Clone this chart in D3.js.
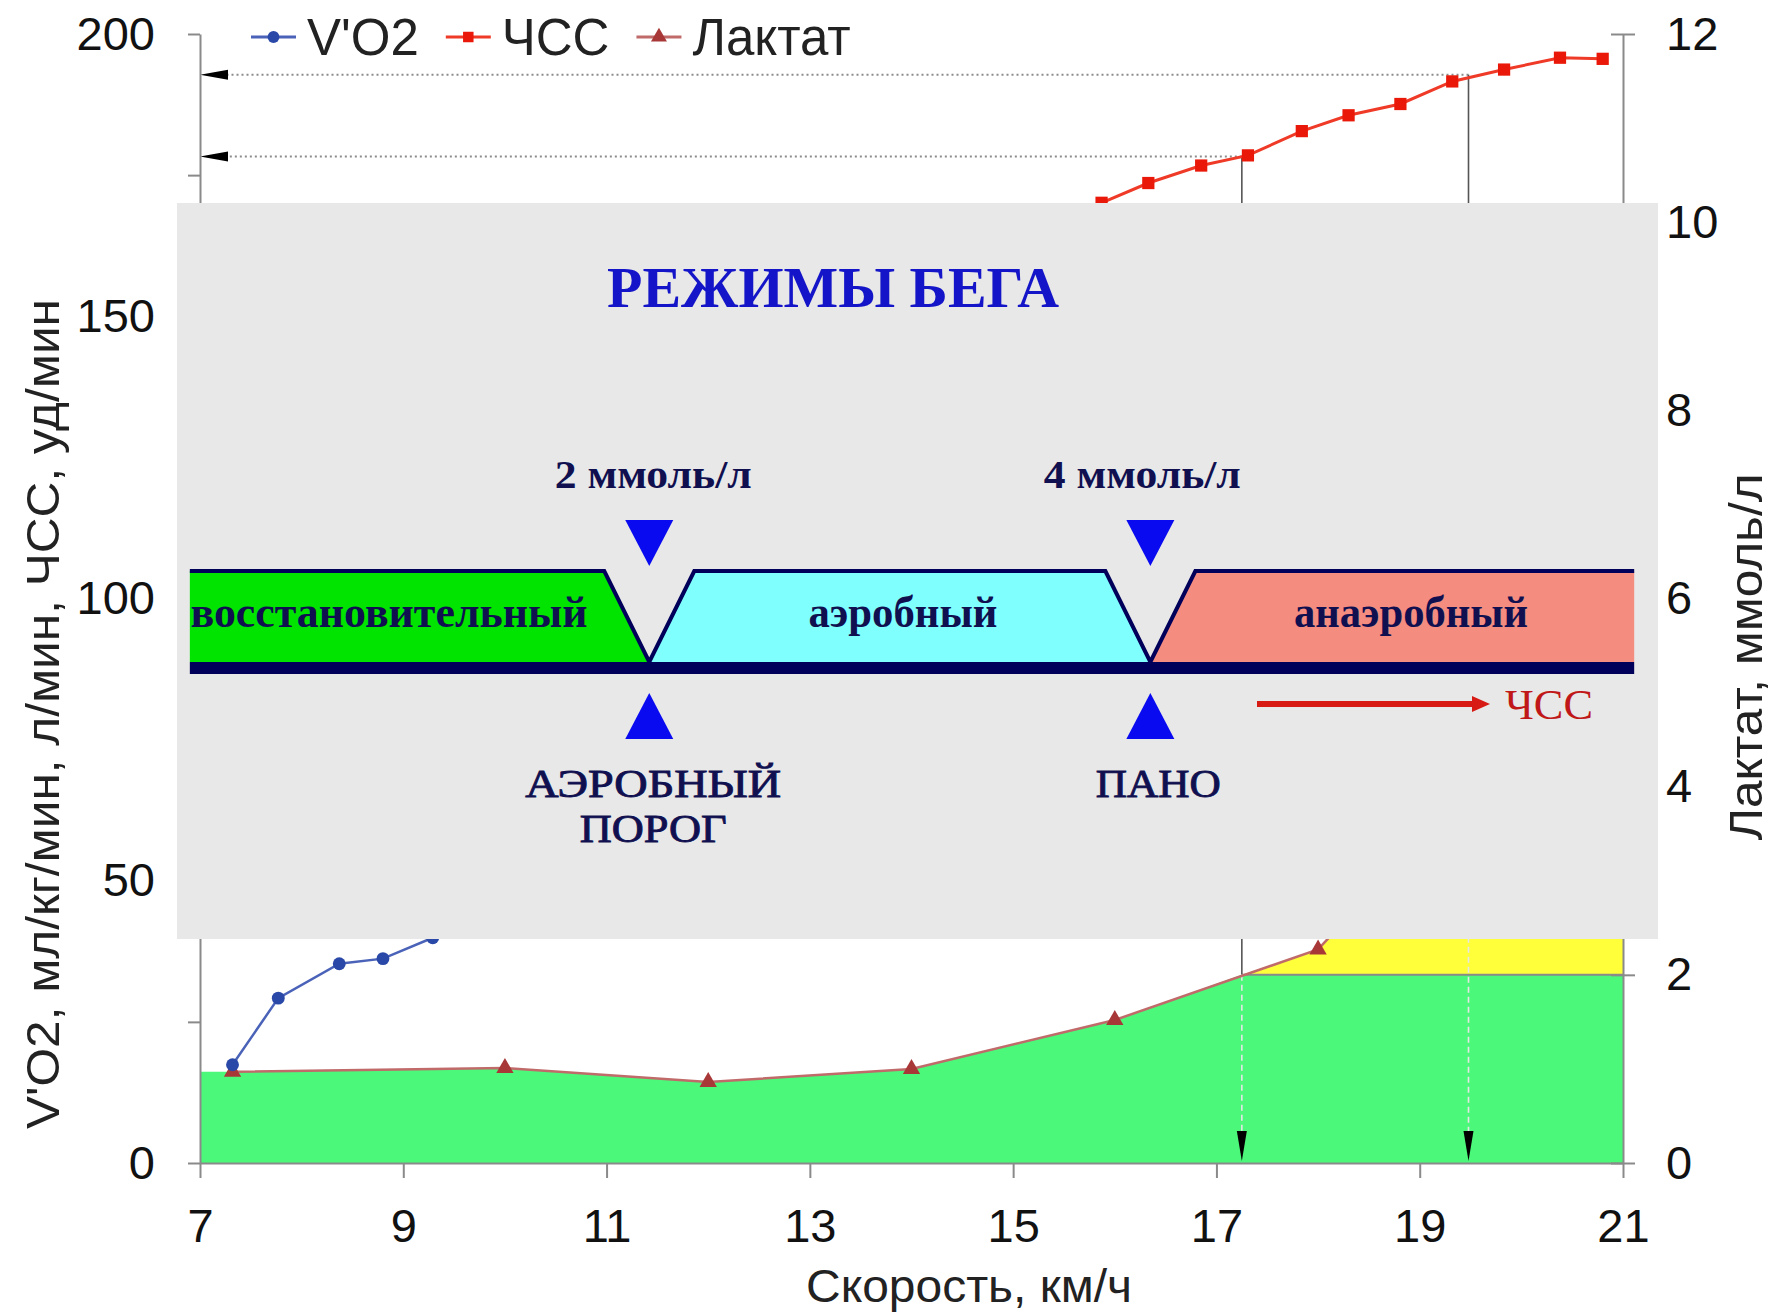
<!DOCTYPE html>
<html>
<head>
<meta charset="utf-8">
<script src="https://cdn.jsdelivr.net/npm/d3@7"></script>
<style>
  body { margin: 0; background: #fff; }
  svg text { font-family: "Liberation Sans", Arial, sans-serif; }
  svg text.ser { font-family: "Liberation Serif", "Times New Roman", serif; }
</style>
</head>
<body>
<svg id="chart" width="1771" height="1316"></svg>
<script>
// --- data ---
const speedVO2 = [7.32, 7.77, 8.37, 8.80, 9.29];
const vo2 = [17.4, 29.2, 35.3, 36.2, 39.9];

const speedHR = [15.87, 16.33, 16.85, 17.31, 17.84, 18.30, 18.81, 19.32, 19.83, 20.38, 20.80];
const hr = [170.1, 173.6, 176.7, 178.5, 182.8, 185.6, 187.6, 191.6, 193.7, 195.8, 195.6];

const speedLact = [7.32, 10, 12, 14, 16, 18, 20];
const lactate = [0.97, 1.01, 0.86, 1.0, 1.52, 2.27, 4.6];

// thresholds (2 and 4 mmol/l)
const thrSpeed = [17.25, 19.48];
const thrHR = [178.3, 192.8];
const thrLact = [2, 4];

const xTicks = [7, 9, 11, 13, 15, 17, 19, 21];
const yLeftTicks = [0, 25, 50, 75, 100, 125, 150, 175, 200];
const yRightTicks = [0, 2, 4, 6, 8, 10, 12];

const seriesNames = ["V'O2", "ЧСС", "Лактат"];

// overlay "running modes"
const zoneNames = ["восстановительный", "аэробный", "анаэробный"];
const zoneBreaks = [11.42, 16.35];
const bandRange = [6.9, 21.11];
const breakLabels = ["2 ммоль/л", "4 ммоль/л"];
const breakNames = [["АЭРОБНЫЙ", "ПОРОГ"], ["ПАНО"]];

(function () {
  const svg = d3.select("#chart");
  svg.append("rect").attr("width", 1771).attr("height", 1316).attr("fill", "#fff");

  const x = d3.scaleLinear().domain([7, 21]).range([200, 1623]);
  const yL = d3.scaleLinear().domain([0, 200]).range([1163, 34]);
  const yR = d3.scaleLinear().domain([0, 12]).range([1163, 34]);

  const lactPts = speedLact.map((s, i) => ({ s, v: lactate[i] }));

  // green zone under lactate up to 2 mmol, then flat
  const green = [{ s: 7, v: lactate[0] }]
    .concat(lactPts.filter(p => p.s < thrSpeed[0]))
    .concat([{ s: thrSpeed[0], v: thrLact[0] }, { s: 21, v: thrLact[0] }]);
  const yellow = [{ s: thrSpeed[0], v: thrLact[0] }]
    .concat(lactPts.filter(p => p.s > thrSpeed[0] && p.s < thrSpeed[1]))
    .concat([{ s: thrSpeed[1], v: thrLact[1] }, { s: 21, v: thrLact[1] }]);

  svg.append("path").datum(green)
    .attr("fill", "#4cf87a")
    .attr("d", d3.area().x(d => x(d.s)).y0(yR(0)).y1(d => yR(d.v)));
  svg.append("path").datum(yellow)
    .attr("fill", "#ffff3a")
    .attr("d", d3.area().x(d => x(d.s)).y0(yR(thrLact[0])).y1(d => yR(d.v)));

  // 2 mmol boundary line
  svg.append("line")
    .attr("x1", x(thrSpeed[0])).attr("x2", x(21))
    .attr("y1", yR(thrLact[0])).attr("y2", yR(thrLact[0]))
    .attr("stroke", "#8a8a8a").attr("stroke-width", 2);

  // threshold guide lines
  thrSpeed.forEach((s, i) => {
    const xs = x(s);
    // horizontal dotted to left axis
    svg.append("line")
      .attr("x1", xs).attr("x2", x(7) + 26)
      .attr("y1", yL(thrHR[i])).attr("y2", yL(thrHR[i]))
      .attr("stroke", "#8c8c8c").attr("stroke-width", 2)
      .attr("stroke-dasharray", "2,3");
    svg.append("path")
      .attr("d", `M${x(7)},${yL(thrHR[i])} l28,-5 l0,10 z`)
      .attr("fill", "#000");
    // solid vertical from HR down to lactate level
    svg.append("line")
      .attr("x1", xs).attr("x2", xs)
      .attr("y1", yL(thrHR[i])).attr("y2", yR(thrLact[i]))
      .attr("stroke", "#555").attr("stroke-width", 1.6);
    // light dashed vertical down to speed axis
    svg.append("line")
      .attr("x1", xs).attr("x2", xs)
      .attr("y1", yR(thrLact[i])).attr("y2", yR(0) - 30)
      .attr("stroke", "#e6e6e6").attr("stroke-width", 1.6)
      .attr("stroke-dasharray", "6,4");
    svg.append("path")
      .attr("d", `M${xs},${yR(0) - 2} l-5,-30 l10,0 z`)
      .attr("fill", "#000");
  });

  // axes
  const axisStyle = g => {
    g.select(".domain").attr("stroke", "#8a8a8a").attr("stroke-width", 2);
    g.selectAll(".tick line").attr("stroke", "#8a8a8a").attr("stroke-width", 2);
    g.selectAll(".tick text").attr("fill", "#111").style("font-size", "47px");
  };

  svg.append("g").attr("transform", `translate(0,${yR(0)})`)
    .call(d3.axisBottom(x).tickValues(xTicks).tickSize(15).tickPadding(31).tickSizeOuter(0))
    .call(axisStyle);

  svg.append("g").attr("transform", `translate(${x(7)},0)`)
    .call(d3.axisLeft(yL).tickValues(yLeftTicks).tickSize(12).tickPadding(33).tickSizeOuter(0)
      .tickFormat(d => d % 50 === 0 ? d : ""))
    .call(axisStyle);

  svg.append("g").attr("transform", `translate(${x(21)},0)`)
    .call(d3.axisRight(yR).tickValues(yRightTicks).tickSize(12).tickPadding(31).tickSizeOuter(0))
    .call(axisStyle)
    .call(g => g.selectAll(".tick line").attr("x1", -12));

  // series
  const line = d3.line();
  const addSeries = (sx, sy, yScale, color, mColor, sym, size, w) => {
    const pts = sx.map((s, i) => [x(s), yScale(sy[i])]);
    svg.append("path").datum(pts)
      .attr("fill", "none").attr("stroke", color).attr("stroke-width", w)
      .attr("d", line);
    svg.append("g").selectAll("path").data(pts).join("path")
      .attr("transform", d => `translate(${d[0]},${d[1]})`)
      .attr("d", d3.symbol().type(sym).size(size))
      .attr("fill", mColor);
  };
  addSeries(speedLact, lactate, yR, "#c06a6a", "#a83838", d3.symbolTriangle, 130, 2.5);
  addSeries(speedVO2, vo2, yL, "#4a63b8", "#2a48a8", d3.symbolCircle, 130, 2.5);
  addSeries(speedHR, hr, yL, "#f03a28", "#ea1808", d3.symbolSquare, 150, 3);

  // axis titles
  svg.append("text")
    .attr("transform", `translate(969,1302)`)
    .attr("text-anchor", "middle")
    .attr("textLength", 326).attr("lengthAdjust", "spacingAndGlyphs")
    .style("font-size", "47px").attr("fill", "#222")
    .text("Скорость, км/ч");
  svg.append("text")
    .attr("transform", `translate(59,714) rotate(-90)`)
    .attr("text-anchor", "middle")
    .attr("textLength", 830).attr("lengthAdjust", "spacingAndGlyphs")
    .style("font-size", "47px").attr("fill", "#222")
    .text("V'O2, мл/кг/мин, л/мин, ЧСС, уд/мин");
  svg.append("text")
    .attr("transform", `translate(1762,657) rotate(-90)`)
    .attr("text-anchor", "middle")
    .attr("textLength", 367).attr("lengthAdjust", "spacingAndGlyphs")
    .style("font-size", "47px").attr("fill", "#222")
    .text("Лактат, ммоль/л");

  // legend
  const legColors = ["#4a63b8", "#f03a28", "#c06a6a"];
  const legMarks = ["#2a48a8", "#ea1808", "#a83838"];
  const legSyms = [d3.symbolCircle, d3.symbolSquare, d3.symbolTriangle];
  let lx = 251;
  seriesNames.forEach((name, i) => {
    const g = svg.append("g").attr("transform", `translate(${lx},37)`);
    g.append("line").attr("x1", 0).attr("x2", 45)
      .attr("stroke", legColors[i]).attr("stroke-width", 3);
    g.append("path").attr("transform", "translate(22.5,0)")
      .attr("d", d3.symbol().type(legSyms[i]).size(110)).attr("fill", legMarks[i]);
    const t = g.append("text").attr("x", 56).attr("y", 18)
      .style("font-size", "51px").attr("fill", "#222").text(name);
    lx += 56 + t.node().getComputedTextLength() + 27;
  });

  // --- overlay panel "РЕЖИМЫ БЕГА" ---
  const ov = svg.append("g");
  ov.append("rect").attr("x", 177).attr("y", 203).attr("width", 1481).attr("height", 736)
    .attr("fill", "#e8e8e8");

  ov.append("text").attr("class", "ser")
    .attr("x", 833).attr("y", 307).attr("text-anchor", "middle")
    .attr("textLength", 452).attr("lengthAdjust", "spacingAndGlyphs")
    .style("font-size", "58px").style("font-weight", "bold").attr("fill", "#1414c8")
    .text("РЕЖИМЫ БЕГА");

  const top = 571, bot = 662, slant = 45;
  const L = x(bandRange[0]), R = x(bandRange[1]);
  const n = zoneBreaks.map(x);
  const zonePolys = [
    [[L, top], [n[0] - slant, top], [n[0], bot], [L, bot]],
    [[n[0], bot], [n[0] + slant, top], [n[1] - slant, top], [n[1], bot]],
    [[n[1], bot], [n[1] + slant, top], [R, top], [R, bot]]
  ];
  const zoneColors = ["#00e400", "#80ffff", "#f48c80"];
  ov.selectAll("path.zone").data(zonePolys).join("path")
    .attr("class", "zone")
    .attr("d", d => "M" + d.join("L") + "Z")
    .attr("fill", (d, i) => zoneColors[i]);
  ov.append("path")
    .attr("d", "M" + [[L, top], [n[0] - slant, top], [n[0], bot], [n[0] + slant, top],
      [n[1] - slant, top], [n[1], bot], [n[1] + slant, top], [R, top]].join("L"))
    .attr("fill", "none").attr("stroke", "#00005a").attr("stroke-width", 4);
  ov.append("rect").attr("x", L).attr("y", bot).attr("width", R - L).attr("height", 12)
    .attr("fill", "#00005a");

  const zoneText = [
    { cx: 389, w: 397 },
    { cx: 903, w: 189 },
    { cx: 1411, w: 234 }
  ];
  zoneNames.forEach((name, i) => {
    ov.append("text").attr("class", "ser")
      .attr("x", zoneText[i].cx).attr("y", 627).attr("text-anchor", "middle")
      .attr("textLength", zoneText[i].w).attr("lengthAdjust", "spacingAndGlyphs")
      .style("font-size", "44px").style("font-weight", "bold").attr("fill", "#101050")
      .text(name);
  });

  n.forEach((nx, i) => {
    ov.append("text").attr("class", "ser")
      .attr("x", nx + 4 - i * 12).attr("y", 488).attr("text-anchor", "middle")
      .attr("textLength", 197).attr("lengthAdjust", "spacingAndGlyphs")
      .style("font-size", "40px").style("font-weight", "bold").attr("fill", "#101050")
      .text(breakLabels[i]);
    ov.append("path").attr("d", `M${nx - 24},${520} L${nx + 24},${520} L${nx},${566} Z`)
      .attr("fill", "#0a0af0");
    ov.append("path").attr("d", `M${nx - 24},${739} L${nx + 24},${739} L${nx},${693} Z`)
      .attr("fill", "#0a0af0");
    const nameW = [[256, 147], [125]];
    breakNames[i].forEach((t, j) => {
      ov.append("text").attr("class", "ser")
        .attr("x", nx + 4 + i * 4).attr("y", 797 + j * 45).attr("text-anchor", "middle")
        .attr("textLength", nameW[i][j]).attr("lengthAdjust", "spacingAndGlyphs")
        .style("font-size", "40px").attr("fill", "#101050")
        .attr("stroke", "#101050").attr("stroke-width", 0.9)
        .text(t);
    });
  });

  // red arrow "ЧСС"
  ov.append("line").attr("x1", 1257).attr("x2", 1474).attr("y1", 704).attr("y2", 704)
    .attr("stroke", "#d81a14").attr("stroke-width", 6);
  ov.append("path").attr("d", "M1490,704 l-18,-8 l0,16 z").attr("fill", "#d81a14");
  ov.append("text").attr("class", "ser")
    .attr("x", 1505).attr("y", 719)
    .attr("textLength", 88).attr("lengthAdjust", "spacingAndGlyphs")
    .style("font-size", "42px").attr("fill", "#c01818")
    .text("ЧСС");
})();
</script>
</body>
</html>
